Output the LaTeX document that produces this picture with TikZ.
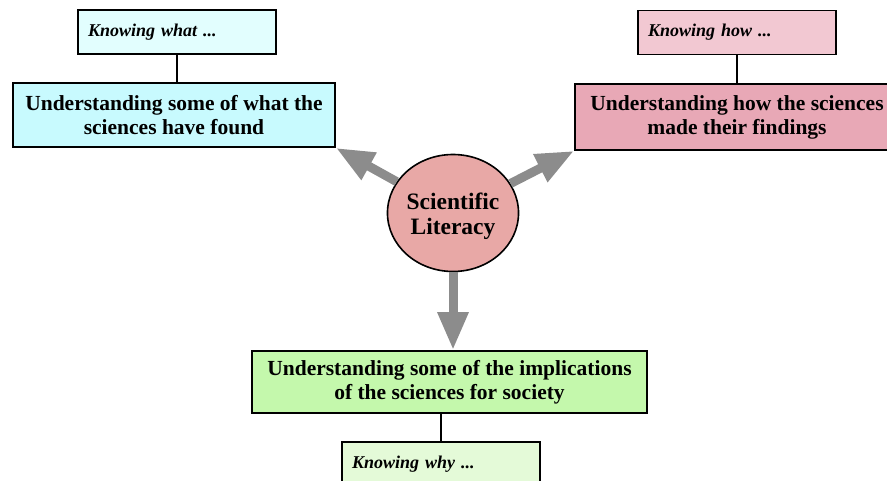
\documentclass[tikz,border=0pt]{standalone}
\usepackage{fontspec}
\setmainfont{Liberation Serif}
\usetikzlibrary{arrows.meta,shapes.geometric}

\definecolor{whatlight}{HTML}{E2FEFE}
\definecolor{whatfill}{HTML}{C8FAFE}
\definecolor{howlight}{HTML}{F2C8D2}
\definecolor{howfill}{HTML}{E8A8B6}
\definecolor{whylight}{HTML}{E4FAD8}
\definecolor{whyfill}{HTML}{C4F8AC}
\definecolor{corefill}{HTML}{E8A8A6}
\definecolor{arrowgray}{HTML}{8C8C8C}

\tikzset{
  mainbox/.style={draw=black, line width=1.8pt, align=center, inner sep=0pt,
    font=\fontsize{21.5}{24}\selectfont\bfseries},
  knowbox/.style={draw=black, line width=1.8pt, align=left, inner xsep=10pt, inner ysep=0pt,
    text width=178pt, minimum height=44pt,
    font=\fontsize{18}{20}\selectfont\bfseries\itshape},
  link/.style={draw=black, line width=1.4pt},
  bigarrow/.style={draw=arrowgray, line width=9pt,
    -{Triangle[length=38pt,width=29pt]}},
}

\begin{document}
\begin{tikzpicture}[x=1pt,y=-1pt]
  \useasboundingbox (0,0) rectangle (887,481);

  % central idea (the strut lowers the two lines a little inside the circle)
  \node[ellipse, draw=black, line width=1.6pt, fill=corefill,
        minimum width=126pt, minimum height=117pt, inner sep=0pt, align=center,
        font=\fontsize{23.5}{25}\selectfont\bfseries] (core) at (453,213)
        {\rule{0pt}{24pt}Scientific\\Literacy};

  % three facets
  \node[mainbox, fill=whatfill, minimum width=322pt, minimum height=64pt] (what) at (174,115)
    {Understanding some of what the\\sciences have found};
  \node[mainbox, fill=howfill, minimum width=324pt, minimum height=66pt] (how) at (737,117)
    {Understanding how the sciences\\made their findings};
  \node[mainbox, fill=whyfill, minimum width=395pt, minimum height=62pt] (why) at (449.5,382)
    {Understanding some of the implications\\of the sciences for society};

  % captions
  \node[knowbox, fill=whatlight] (kwhat) at (177,32) {Knowing what ...};
  \node[knowbox, fill=howlight] (khow) at (737,32.5) {Knowing how ...};
  \node[knowbox, fill=whylight] (kwhy) at (441,464) {Knowing why ...};

  % caption links
  \draw[link] (kwhat.south) -- (kwhat.south |- what.north);
  \draw[link] (khow.south) -- (khow.south |- how.north);
  \draw[link] (kwhy.north) -- (kwhy.north |- why.south);

  % arrows out of the centre
  \draw[bigarrow] (core) -- (what.south east);
  \draw[bigarrow] (core) -- (how.south west);
  \draw[bigarrow] (core.south) -- (core.south |- why.north);
\end{tikzpicture}
\end{document}
